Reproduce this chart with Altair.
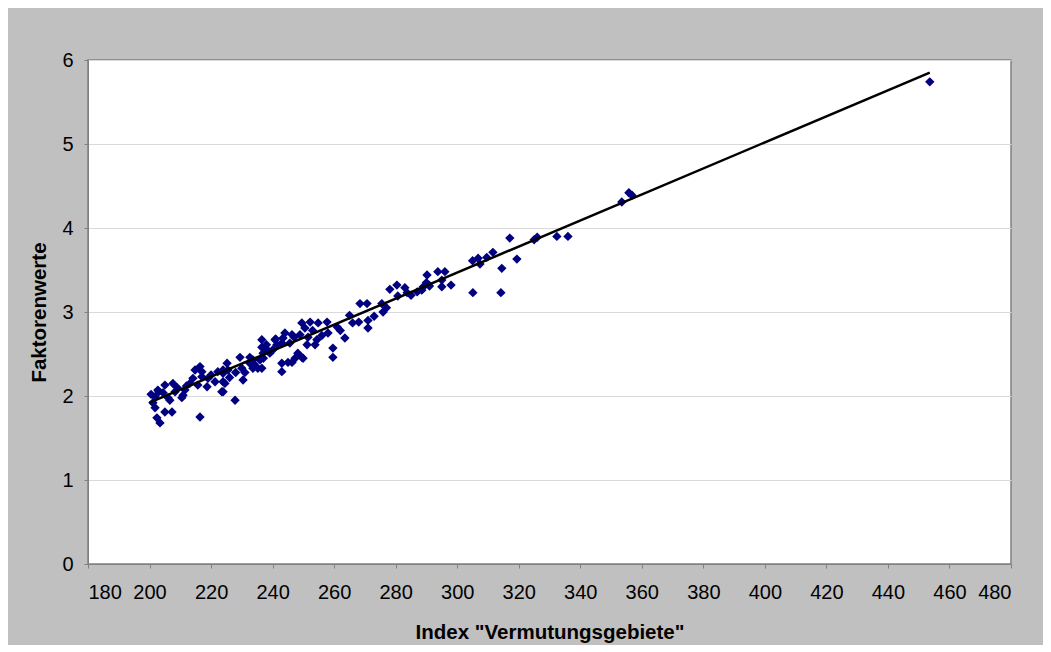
import altair as alt
import pandas as pd

xs = [217, 217, 214.1, 213.1, 215.7, 218.7, 221.3, 222.2, 223.9, 224.5, 223.5, 207.6, 205, 208.3, 211.5,
      210.5, 204.4, 202.7, 201.8, 201.1, 201.8, 202.4, 203.4, 205, 207.3, 206.6, 216.4, 210.9, 214.8, 216.4,
      249.5, 250.5, 248.9, 246.3, 245.6, 243.4, 243, 241.4, 240.8, 240.1, 236.5, 236.5, 236.9, 239.1, 235.9,
      233.6, 232.6, 229.4, 235.2, 236.5, 243, 243, 245, 246.3, 247.3, 249.5, 248.2, 225.2, 225.5, 223.9,
      230.4, 223.9, 223.9, 227.8, 230, 233.6, 232.6,
      252.2, 254.8, 257.7, 253, 251.5, 254.4, 251.2, 253.8, 249.9, 259.6, 259.6, 263.5, 261, 265, 266,
      268.4, 270.7, 271, 271, 275.5, 275.9,
      278.1, 280.4, 280.7, 283, 283.7, 287, 288.5, 290.2, 290, 291, 293.7, 296, 295, 295,
      317.1, 326, 332.4, 336, 305, 306.8, 309.6, 311.6, 314.5, 319.4, 305.1, 314.2, 307.4, 325,
      353.5, 355.8, 356.8, 453.6,
      200.5, 203, 206, 209, 212, 219, 220, 226, 228, 231, 234, 237, 238, 241, 244, 247, 238, 256, 258,
      262, 268, 273, 277, 285, 289, 298]
ys = [2.29, 2.23, 2.21, 2.15, 2.13, 2.11, 2.17, 2.29, 2.31, 2.15, 2.05, 2.15, 2.13, 2.05, 2.07,
      1.98, 2.04, 2.07, 1.99, 1.92, 1.86, 1.74, 1.68, 1.81, 1.81, 1.95, 1.75, 2.01, 2.31, 2.35,
      2.87, 2.81, 2.73, 2.73, 2.63, 2.69, 2.63, 2.61, 2.67, 2.55, 2.67, 2.58, 2.51, 2.51, 2.43,
      2.43, 2.46, 2.46, 2.33, 2.33, 2.39, 2.29, 2.40, 2.40, 2.45, 2.46, 2.51, 2.39, 2.31, 2.27,
      2.19, 2.17, 2.05, 1.95, 2.33, 2.33, 2.39,
      2.88, 2.87, 2.88, 2.78, 2.70, 2.67, 2.61, 2.61, 2.45, 2.57, 2.46, 2.69, 2.82, 2.96, 2.87,
      3.10, 3.10, 2.90, 2.81, 3.10, 3.00,
      3.27, 3.32, 3.19, 3.29, 3.23, 3.24, 3.26, 3.44, 3.35, 3.31, 3.48, 3.48, 3.30, 3.38,
      3.88, 3.89, 3.90, 3.90, 3.61, 3.64, 3.65, 3.71, 3.52, 3.63, 3.23, 3.23, 3.57, 3.86,
      4.31, 4.42, 4.39, 5.74,
      2.02, 2.05, 1.98, 2.10, 2.12, 2.21, 2.25, 2.22, 2.28, 2.28, 2.38, 2.45, 2.56, 2.68, 2.75, 2.70, 2.61,
      2.72, 2.75, 2.78, 2.88, 2.95, 3.05, 3.20, 3.30, 3.32]

trend_x = [200, 453.6]
trend_y = [1.92, 5.85]

pts = pd.DataFrame({"x": xs, "y": ys})
trend = pd.DataFrame({"x": trend_x, "y": trend_y})

xscale = alt.Scale(domain=[180, 480], nice=False, zero=False)
yscale = alt.Scale(domain=[0, 6], nice=False)

xaxis = alt.Axis(title='Index "Vermutungsgebiete"', values=list(range(180, 481, 20)), format="d",
                 grid=False, tickSize=4, labelPadding=14, titlePadding=20)
yaxis = alt.Axis(title="Faktorenwerte", values=[0, 1, 2, 3, 4, 5, 6], format="d", grid=True,
                 tickSize=4, labelPadding=11, titlePadding=12)

points = alt.Chart(pts).mark_point(shape="diamond", filled=True, size=88, color="#000080", opacity=1).encode(
    x=alt.X("x:Q", scale=xscale, axis=xaxis),
    y=alt.Y("y:Q", scale=yscale, axis=yaxis),
)

line = alt.Chart(trend).mark_line(color="#000000", strokeWidth=2.5).encode(
    x=alt.X("x:Q", scale=xscale),
    y=alt.Y("y:Q", scale=yscale),
)

chart = alt.layer(points, line).properties(
    width=923, height=504,
    padding={"left": 80, "top": 52, "right": 32, "bottom": 81},
    autosize=alt.AutoSizeParams(type="none"),
    background="#c0c0c0",
).configure_view(
    fill="white", stroke="#808080", strokeWidth=1.5
).configure_axis(
    labelFont="Liberation Sans", titleFont="Liberation Sans",
    labelFontSize=20, titleFontSize=20.5, titleFontWeight="bold",
    labelColor="#000000", titleColor="#000000",
    domainColor="#808080", tickColor="#808080", gridColor="#d9d9d9", gridWidth=1,
)

chart.save("out.html", embed_options={"renderer": "svg", "actions": False})
